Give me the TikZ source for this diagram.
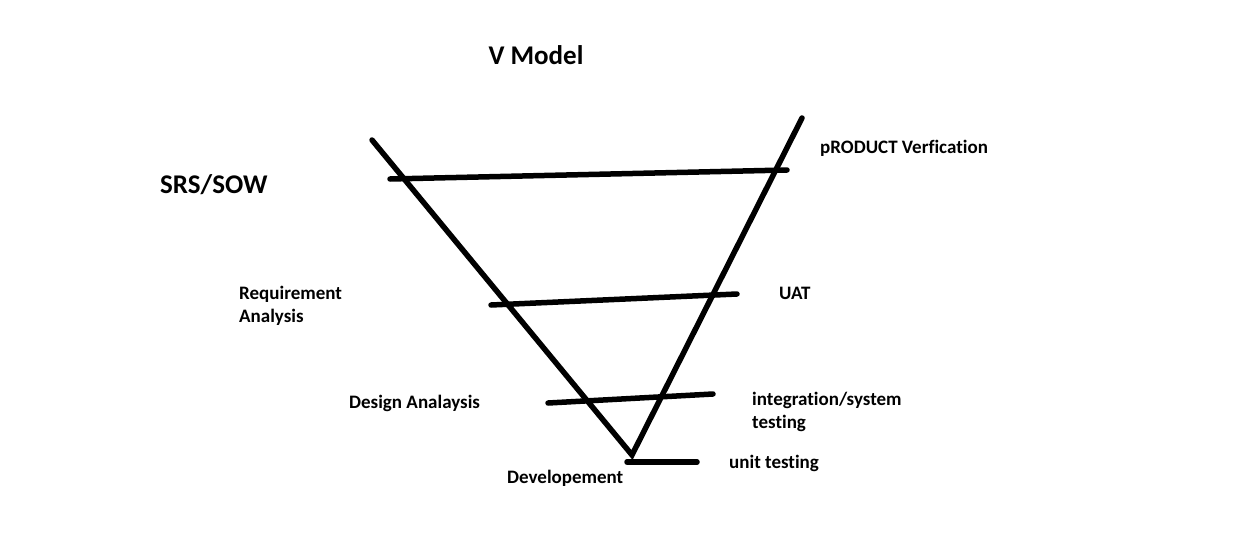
\documentclass[tikz,border=0pt]{standalone}
\usepackage{fontspec}
\setmainfont[Ligatures=NoCommon]{Carlito}
\usetikzlibrary{positioning}

\begin{document}
\begin{tikzpicture}[x=1pt, y=-1pt,
    stroke/.style={line width=5.5pt, line cap=round},
    bigtxt/.style={font=\bfseries\fontsize{27}{30}\selectfont, inner sep=0pt},
    txt/.style={font=\bfseries\fontsize{19}{23}\selectfont, anchor=west, inner sep=0pt, align=left}
]
\useasboundingbox (0,0) rectangle (1247,543);

% V shape
\coordinate (vtopl) at (372,140);
\coordinate (vtip) at (632,455);
\coordinate (vtopr) at (802,118);
\draw[stroke] (vtopl) -- (vtip) -- (vtopr);

% Cross bars
\coordinate (bar1l) at (390,179);
\coordinate (bar1r) at (787,170);
\coordinate (bar2l) at (491,305);
\coordinate (bar2r) at (737,294);
\coordinate (bar3l) at (548,403);
\coordinate (bar3r) at (713,394);
\coordinate (bar4l) at (627,462);
\coordinate (bar4r) at (697,462);
\draw[stroke] (bar1l) -- (bar1r);
\draw[stroke] (bar2l) -- (bar2r);
\draw[stroke] (bar3l) -- (bar3r);
\draw[stroke] (bar4l) -- (bar4r);

% Labels
\node[bigtxt] (title) at (536,55) {V Model};
\node[bigtxt, anchor=west] (srs) at (160,185) {SRS/SOW};
\node[txt] (prod) at (820,148) {pRODUCT Verfication};
\node[txt] (req) at (239,306) {Requirement\\Analysis};
\node[txt] (uat) at (779,293) {UAT};
\node[txt] (design) at (349,403) {Design Analaysis};
\node[txt] (integ) at (752,412) {integration/system\\testing};
\node[txt] (unit) at (729,463) {unit testing};
\node[txt] (dev) at (507,478) {Developement};

\end{tikzpicture}
\end{document}
